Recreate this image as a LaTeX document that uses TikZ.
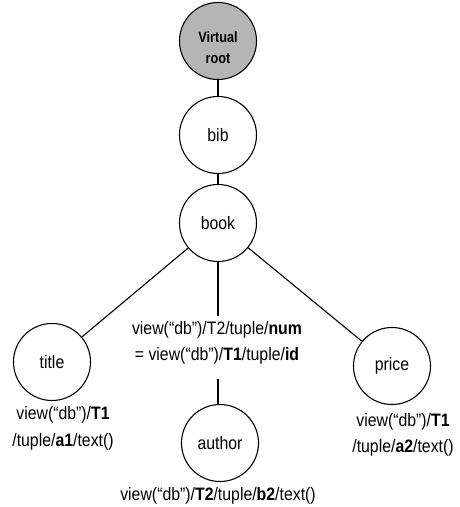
\documentclass[tikz,border=0pt]{standalone}
\usepackage{fontspec}
\setmainfont{Liberation Sans}
\newfontfamily\narrowf[FakeStretch=0.88]{Liberation Sans}
\newfontfamily\rootf[FakeStretch=0.85]{Liberation Sans}
\begin{document}
\begin{tikzpicture}[x=1pt,y=-1pt,
  circ/.style={circle, draw, line width=1.1pt, minimum size=77pt, inner sep=0pt, font=\narrowf\fontsize{18}{20}\selectfont},
  rootc/.style={circ, fill=gray!58},
  roott/.style={align=center, inner sep=0pt, yshift=-7pt, font=\rootf\bfseries\fontsize{15}{21}\selectfont},
  lbl/.style={align=center, inner sep=0pt, font=\narrowf\fontsize{18}{27}\selectfont},
  condl/.style={align=center, inner xsep=0pt, inner ysep=5pt, font=\narrowf\fontsize{18}{26}\selectfont},
  edge/.style={line width=1.1pt}]
\useasboundingbox (0,0) rectangle (460,507);
\node[rootc, label={[roott]center:Virtual\\root}] (root) at (218,41) {};
\node[circ] (bib) at (218,135) {bib};
\node[circ] (book) at (218,223) {book};
\node[circ] (title) at (52,362) {title};
\node[circ] (author) at (220,443) {author};
\node[circ] (price) at (392,366) {price};
\node[condl] (cond) at (217,343) {view(“db”)/T2/tuple/\textbf{num}\\= view(“db”)/\textbf{T1}/tuple/\textbf{id}};
\node[lbl] (tlab) at (63,428) {view(“db”)/\textbf{T1}\\/tuple/\textbf{a1}/text()};
\node[lbl, font=\narrowf\fontsize{18}{26}\selectfont] (plab) at (403,435) {view(“db”)/\textbf{T1}\\/tuple/\textbf{a2}/text()};
\node[lbl] (alab) at (218,496) {view(“db”)/\textbf{T2}/tuple/\textbf{b2}/text()};
\draw[edge] (root) -- (bib);
\draw[edge] (bib) -- (book);
\draw[edge] (book) -- (title);
\draw[edge] (book) -- (price);
\draw[edge] (book.south) -- (book.south |- cond.north);
\draw[edge] ([yshift=-9pt]cond.south -| book.south) -- (author.north -| book.south);
\end{tikzpicture}
\end{document}
